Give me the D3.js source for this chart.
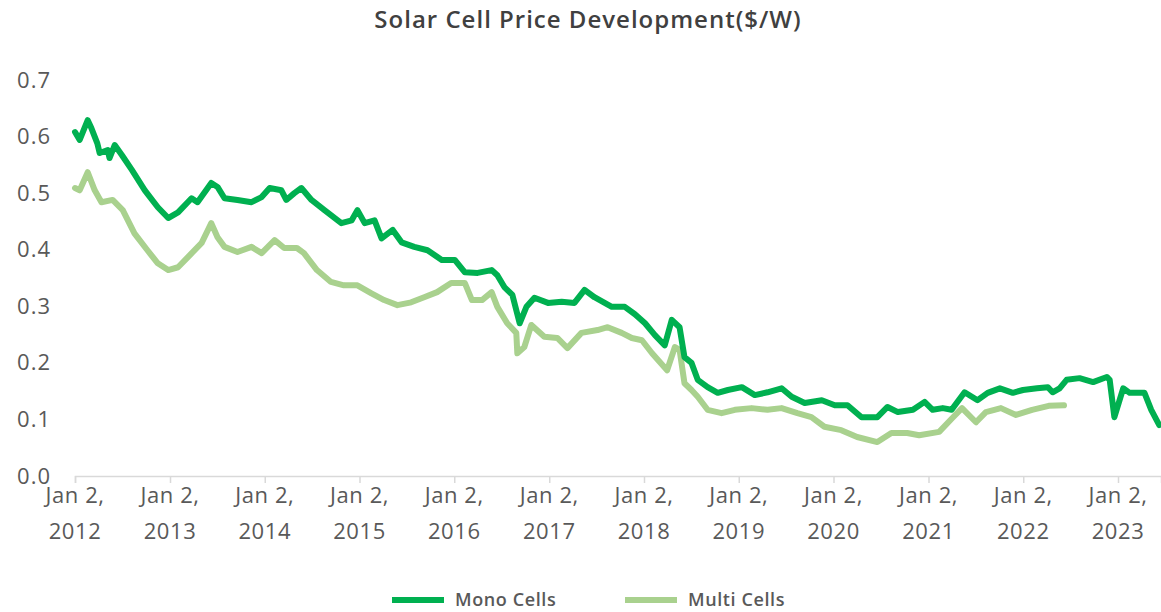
<!DOCTYPE html>
<html>
<head>
<meta charset="utf-8">
<script src="https://cdn.jsdelivr.net/npm/d3@7"></script>
<style>
    body { margin: 0; background: #fff; }
    text { font-family: "Open Sans", "Noto Sans", sans-serif; }
</style>
</head>
<body>
<div id="chart"></div>
<script>
const chartTitle = "Solar Cell Price Development($/W)";
const seriesNames = ["Mono Cells", "Multi Cells"];
const seriesColors = ["#00b050", "#a9d18e"];
const yTicks = [0, 0.1, 0.2, 0.3, 0.4, 0.5, 0.6, 0.7];
const tickYears = [2012, 2013, 2014, 2015, 2016, 2017, 2018, 2019, 2020, 2021, 2022, 2023];

const monoSeries = [
    ["2012-01-02", 0.608], ["2012-01-20", 0.594], ["2012-02-20", 0.629], ["2012-03-05", 0.615],
    ["2012-03-28", 0.588], ["2012-04-06", 0.571], ["2012-05-07", 0.576], ["2012-05-14", 0.562],
    ["2012-06-03", 0.585], ["2012-07-01", 0.567], ["2012-08-08", 0.541], ["2012-09-27", 0.505],
    ["2012-11-16", 0.475], ["2012-12-26", 0.456], ["2013-02-02", 0.466], ["2013-03-26", 0.491],
    ["2013-04-18", 0.484], ["2013-06-10", 0.518], ["2013-07-04", 0.511], ["2013-07-31", 0.491],
    ["2013-09-19", 0.488], ["2013-11-12", 0.484], ["2013-12-21", 0.493], ["2014-01-21", 0.509],
    ["2014-03-07", 0.505], ["2014-03-26", 0.488], ["2014-04-26", 0.500], ["2014-05-23", 0.509],
    ["2014-07-01", 0.488], ["2014-08-20", 0.470], ["2014-10-24", 0.447], ["2014-12-03", 0.452],
    ["2014-12-25", 0.470], ["2015-01-22", 0.447], ["2015-03-01", 0.452], ["2015-03-28", 0.420],
    ["2015-05-10", 0.435], ["2015-06-13", 0.413], ["2015-08-01", 0.405], ["2015-09-21", 0.399],
    ["2015-11-15", 0.382], ["2016-01-04", 0.382], ["2016-02-12", 0.360], ["2016-04-01", 0.359],
    ["2016-05-25", 0.364], ["2016-06-16", 0.355], ["2016-07-13", 0.334], ["2016-08-13", 0.320],
    ["2016-09-10", 0.270], ["2016-10-06", 0.299], ["2016-11-06", 0.315], ["2016-12-28", 0.306],
    ["2017-02-19", 0.308], ["2017-04-09", 0.306], ["2017-05-18", 0.329], ["2017-06-25", 0.316],
    ["2017-08-31", 0.299], ["2017-10-20", 0.299], ["2017-11-28", 0.286], ["2018-01-06", 0.270],
    ["2018-02-13", 0.249], ["2018-03-23", 0.231], ["2018-04-19", 0.276], ["2018-05-19", 0.263],
    ["2018-06-07", 0.210], ["2018-07-04", 0.200], ["2018-07-28", 0.170], ["2018-09-04", 0.157],
    ["2018-10-13", 0.147], ["2018-11-21", 0.152], ["2019-01-14", 0.157], ["2019-03-05", 0.143],
    ["2019-04-23", 0.148], ["2019-06-16", 0.155], ["2019-07-25", 0.140], ["2019-09-13", 0.129],
    ["2019-11-18", 0.134], ["2020-01-07", 0.125], ["2020-02-25", 0.125], ["2020-04-19", 0.104],
    ["2020-06-19", 0.104], ["2020-07-28", 0.122], ["2020-09-06", 0.113], ["2020-11-03", 0.117],
    ["2020-12-18", 0.131], ["2021-01-18", 0.117], ["2021-02-26", 0.120], ["2021-04-01", 0.117],
    ["2021-05-21", 0.148], ["2021-07-10", 0.134], ["2021-08-18", 0.147], ["2021-10-04", 0.155],
    ["2021-11-23", 0.147], ["2022-01-01", 0.152], ["2022-02-24", 0.155], ["2022-04-07", 0.157],
    ["2022-04-25", 0.148], ["2022-05-22", 0.155], ["2022-06-18", 0.170], ["2022-08-07", 0.173],
    ["2022-09-28", 0.166], ["2022-11-20", 0.175], ["2022-12-01", 0.170], ["2022-12-19", 0.104],
    ["2023-01-22", 0.155], ["2023-02-16", 0.147], ["2023-04-14", 0.147], ["2023-05-10", 0.117],
    ["2023-06-10", 0.090]
];

const multiSeries = [
    ["2012-01-02", 0.509], ["2012-01-20", 0.505], ["2012-02-20", 0.537], ["2012-03-18", 0.505],
    ["2012-04-13", 0.484], ["2012-05-26", 0.488], ["2012-07-04", 0.470], ["2012-08-18", 0.429],
    ["2012-10-07", 0.399], ["2012-11-16", 0.376], ["2012-12-26", 0.364], ["2013-02-02", 0.369],
    ["2013-03-12", 0.387], ["2013-05-04", 0.412], ["2013-06-10", 0.447], ["2013-07-04", 0.422],
    ["2013-07-31", 0.405], ["2013-09-19", 0.396], ["2013-11-12", 0.405], ["2013-12-21", 0.394],
    ["2014-02-09", 0.417], ["2014-03-18", 0.403], ["2014-05-06", 0.403], ["2014-06-02", 0.394],
    ["2014-07-22", 0.364], ["2014-09-14", 0.343], ["2014-11-03", 0.337], ["2014-12-25", 0.337],
    ["2015-02-17", 0.323], ["2015-04-07", 0.311], ["2015-05-28", 0.302], ["2015-07-20", 0.307],
    ["2015-09-08", 0.316], ["2015-10-28", 0.325], ["2015-12-21", 0.341], ["2016-02-12", 0.341],
    ["2016-03-10", 0.311], ["2016-04-18", 0.311], ["2016-05-25", 0.325], ["2016-06-16", 0.299],
    ["2016-07-24", 0.270], ["2016-08-28", 0.253], ["2016-09-01", 0.217], ["2016-09-28", 0.228],
    ["2016-10-25", 0.267], ["2016-12-14", 0.246], ["2017-02-02", 0.244], ["2017-03-13", 0.226],
    ["2017-05-06", 0.253], ["2017-07-07", 0.258], ["2017-08-15", 0.263], ["2017-10-08", 0.253],
    ["2017-11-16", 0.244], ["2017-12-25", 0.240], ["2018-02-02", 0.217], ["2018-02-25", 0.205],
    ["2018-04-01", 0.187], ["2018-05-01", 0.228], ["2018-05-19", 0.223], ["2018-06-07", 0.164],
    ["2018-07-04", 0.152], ["2018-07-28", 0.140], ["2018-09-04", 0.117], ["2018-10-28", 0.111],
    ["2018-12-18", 0.117], ["2019-02-21", 0.120], ["2019-04-23", 0.117], ["2019-06-16", 0.120],
    ["2019-08-16", 0.111], ["2019-10-09", 0.104], ["2019-11-28", 0.087], ["2020-02-01", 0.081],
    ["2020-04-02", 0.069], ["2020-06-19", 0.060], ["2020-08-12", 0.076], ["2020-10-12", 0.076],
    ["2020-11-27", 0.072], ["2021-02-12", 0.078], ["2021-04-03", 0.102], ["2021-05-11", 0.120],
    ["2021-07-04", 0.095], ["2021-08-11", 0.113], ["2021-10-08", 0.120], ["2021-12-05", 0.108],
    ["2022-02-05", 0.117], ["2022-04-10", 0.124], ["2022-06-08", 0.125]
];

document.addEventListener('DOMContentLoaded', function() {
    const width = 1161;
    const height = 612;
    const plot = {left: 75, right: 1118, top: 80, bottom: 476};

    const svg = d3.select("#chart")
        .append("svg")
        .attr("width", width)
        .attr("height", height);

    const parse = d3.timeParse("%Y-%m-%d");
    const series = [monoSeries, multiSeries].map((s, i) => ({
        name: seriesNames[i],
        color: seriesColors[i],
        values: s.map(d => ({date: parse(d[0]), value: d[1]}))
    }));

    // Jan 2 2012 .. Jan 2 2023 sit on the first and last tick
    const x = d3.scaleTime()
        .domain([new Date(2012, 0, 2), new Date(2023, 0, 2)])
        .range([plot.left, plot.right]);

    const y = d3.scaleLinear()
        .domain([0, 0.7])
        .range([plot.bottom, plot.top]);

    svg.append("text")
        .attr("x", 588)
        .attr("y", 28)
        .attr("text-anchor", "middle")
        .style("font-size", "24px")
        .style("font-weight", 600)
        .style("letter-spacing", "1px")
        .style("fill", "#404040")
        .text(chartTitle);

    // y axis: labels only
    const yAxis = svg.append("g")
        .attr("transform", "translate(51,0)")
        .call(d3.axisLeft(y).tickValues(yTicks).tickFormat(d3.format(".1f")).tickSize(0));
    yAxis.select(".domain").remove();
    yAxis.selectAll("text")
        .attr("x", 0)
        .style("font-size", "22px")
        .style("letter-spacing", "1px")
        .style("font-family", "'Open Sans', sans-serif")
        .style("fill", "#595959");

    // x axis runs on to the right edge
    const xAxisScale = x.copy()
        .domain([x.domain()[0], x.invert(width)])
        .range([plot.left, width]);

    const xAxis = svg.append("g")
        .attr("transform", `translate(0,${plot.bottom})`)
        .call(d3.axisBottom(xAxisScale)
            .tickValues(tickYears.map(yr => new Date(yr, 0, 2)))
            .tickSizeOuter(0)
            .tickSize(7)
            .tickFormat(""));
    xAxis.select(".domain").attr("stroke", "#d9d9d9").attr("stroke-width", 1.5);
    xAxis.selectAll(".tick line").attr("stroke", "#d9d9d9").attr("stroke-width", 1.5);

    const xLabels = svg.append("g")
        .selectAll("text")
        .data(tickYears)
        .join("text")
        .attr("x", d => x(new Date(d, 0, 2)))
        .attr("y", 503)
        .attr("text-anchor", "middle")
        .style("font-size", "22px")
        .style("letter-spacing", "0.6px")
        .style("fill", "#595959");
    xLabels.append("tspan").attr("x", d => x(new Date(d, 0, 2))).text("Jan 2,");
    xLabels.append("tspan").attr("x", d => x(new Date(d, 0, 2))).attr("dy", 36).text(d => d);

    const line = d3.line()
        .x(d => x(d.date))
        .y(d => y(d.value));

    // multi drawn first so mono sits on top
    svg.append("g")
        .selectAll("path")
        .data(series.slice().reverse())
        .join("path")
        .attr("d", d => line(d.values))
        .attr("fill", "none")
        .attr("stroke", d => d.color)
        .attr("stroke-width", 6)
        .attr("stroke-linejoin", "round")
        .attr("stroke-linecap", "round");

    // legend
    const legendItems = [
        {name: seriesNames[0], color: seriesColors[0], x0: 392},
        {name: seriesNames[1], color: seriesColors[1], x0: 625}
    ];
    const legend = svg.append("g")
        .selectAll("g")
        .data(legendItems)
        .join("g")
        .attr("transform", d => `translate(${d.x0},600)`);

    legend.append("line")
        .attr("x1", 0)
        .attr("x2", 52)
        .attr("stroke", d => d.color)
        .attr("stroke-width", 6);

    legend.append("text")
        .attr("x", 63)
        .attr("y", 6)
        .style("font-size", "18px")
        .style("font-weight", 600)
        .style("letter-spacing", "0.6px")
        .style("fill", "#595959")
        .text(d => d.name);
});
</script>
</body>
</html>
